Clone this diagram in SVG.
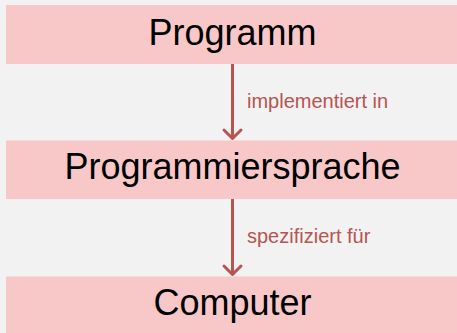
<svg xmlns="http://www.w3.org/2000/svg" width="457" height="333" viewBox="0 0 457 333">
<style>
.band{fill:#f8c8c8}
.main{font-family:"Liberation Sans",Arial,sans-serif;font-size:36px;fill:#000;text-anchor:middle}
.lbl{font-family:"Liberation Sans",Arial,sans-serif;font-size:20px;fill:#b85450}
.edge{stroke:#b85450;stroke-width:3;fill:none}
.head{stroke:#b85450;stroke-width:3;fill:none;stroke-linecap:round;stroke-linejoin:round}
</style>
<rect x="0" y="0" width="457" height="333" fill="#f2f2f2"/>
<g id="connectors">
<line class="edge" x1="232.5" y1="64" x2="232.5" y2="138"/>
<path class="head" d="M224,130 L232.5,138.5 L241,130"/>
<text class="lbl" x="247" y="108">implementiert in</text>
<line class="edge" x1="232.5" y1="199" x2="232.5" y2="274"/>
<path class="head" d="M224,266 L232.5,274.5 L241,266"/>
<text class="lbl" x="247" y="243">spezifiziert für</text>
</g>
<g id="programm">
<rect class="band" x="6" y="5" width="451" height="59"/>
<text class="main" x="232.5" y="45">Programm</text>
</g>
<g id="programmiersprache">
<rect class="band" x="6" y="140.5" width="451" height="58.5"/>
<text class="main" x="232.5" y="179">Programmiersprache</text>
</g>
<g id="computer">
<rect class="band" x="6" y="276.5" width="451" height="56.5"/>
<text class="main" x="232.5" y="315">Computer</text>
</g>
</svg>
